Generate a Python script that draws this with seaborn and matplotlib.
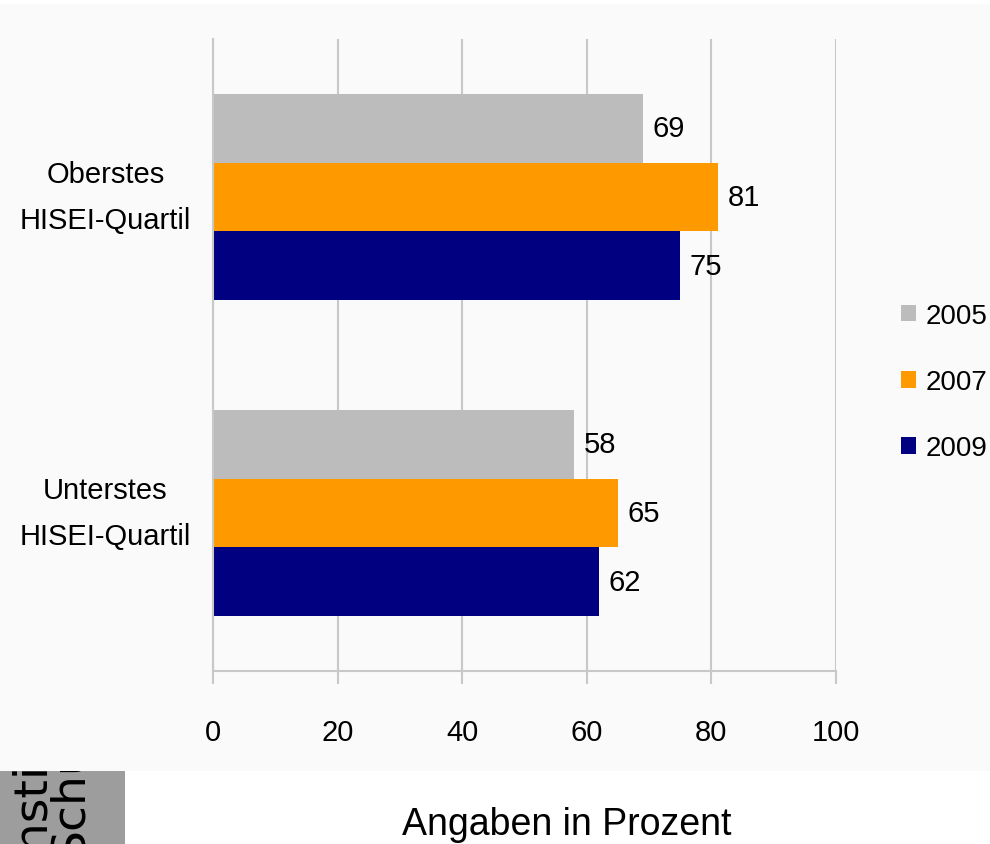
import matplotlib
matplotlib.use("Agg")
import matplotlib.pyplot as plt
import matplotlib.transforms as mtransforms
import seaborn as sns
import pandas as pd
from matplotlib.patches import Rectangle, Patch

categories = ["Oberstes\nHISEI-Quartil", "Unterstes\nHISEI-Quartil"]
years = ["2005", "2007", "2009"]
values_2005 = [69, 58]
values_2007 = [81, 65]
values_2009 = [75, 62]
x_ticks = [0, 20, 40, 60, 80, 100]
x_label = "Angaben in Prozent"
colors = ["#bcbcbc", "#ff9900", "#000080"]
grid_col = "#c8c8c8"

df = pd.DataFrame({
    "Kategorie": categories * 3,
    "Jahr": [y for y in years for _ in categories],
    "Wert": values_2005 + values_2007 + values_2009,
})

sns.set_theme(style="white")
font = ["Liberation Sans", "DejaVu Sans"]
plt.rcParams["font.family"] = font
plt.rcParams["text.color"] = "black"
plt.rcParams["xtick.color"] = "black"
plt.rcParams["ytick.color"] = "black"

fig = plt.figure(figsize=(9.9, 8.45), dpi=100, facecolor="white")
fig.patches.append(Rectangle((0, 73 / 845), 1, (840 - 73) / 845, transform=fig.transFigure,
                             facecolor="#fafafa", edgecolor="none", zorder=-10))

ax = fig.add_axes([213 / 990, 1 - 672 / 845, (836 - 213) / 990, (672 - 40) / 845])
ax.set_facecolor("none")
sns.barplot(data=df, y="Kategorie", x="Wert", hue="Jahr", orient="h",
            order=categories, hue_order=years, palette=colors, width=0.655,
            saturation=1, linewidth=0, errorbar=None, legend=False, ax=ax)

for cont in ax.containers:
    ax.bar_label(cont, padding=7, fontsize=21, color="black")

ax.set_xlim(0, 100)
ax.set_ylim(1.5, -0.5)
ax.set_xticks(x_ticks)
ax.set_xticklabels([str(t) for t in x_ticks], fontsize=21)
ax.set_yticks([0, 1])
ax.set_yticklabels([])
label_tr = ax.get_yaxis_transform() + mtransforms.ScaledTranslation(-22 / 100, 0, fig.dpi_scale_trans)
for i, cat in enumerate(categories):
    ax.text(0, i, cat, transform=label_tr, ha="right", va="center", multialignment="center",
            linespacing=1.85, fontsize=21, color="black")
ax.set_yticks([-0.5, 0.5, 1.5], minor=True)
ax.tick_params(axis="y", which="major", length=0)
ax.tick_params(axis="y", which="minor", length=6, width=1.5, color=grid_col, direction="out")
ax.tick_params(axis="x", which="major", length=9, width=1.5, color=grid_col, pad=25,
               direction="out", bottom=True, labelcolor="black")
ax.set_xlabel("")
ax.set_ylabel("")
ax.xaxis.grid(True, color=grid_col, linewidth=1.5)
ax.yaxis.grid(False)
ax.set_axisbelow(True)
for s in ["top", "right"]:
    ax.spines[s].set_visible(False)
for s in ["left", "bottom"]:
    ax.spines[s].set_color(grid_col)
    ax.spines[s].set_linewidth(1.5)

handles = [Patch(facecolor=c, edgecolor="none", label=y) for c, y in zip(colors, years)]
leg = fig.legend(handles=handles, loc="center left", bbox_to_anchor=(901 / 990, 1 - 383 / 845),
                 frameon=False, prop={"size": 20}, handlelength=0.55,
                 handleheight=0.55, handletextpad=0.35, labelspacing=1.45, borderpad=0,
                 borderaxespad=0, labelcolor="black")

fig.text(567 / 990, 1 - 825 / 845, x_label, ha="center", va="center", fontsize=27, color="black")

ax2 = fig.add_axes([0, 0, 125 / 990, 73 / 845])
ax2.set_facecolor("#9d9d9d")
ax2.set_xticks([])
ax2.set_yticks([])
for s in ax2.spines.values():
    s.set_visible(False)
ax2.set_xlim(0, 125)
ax2.set_ylim(845, 772)
ax2.text(43, 861, "Instit", rotation=90, rotation_mode="anchor", ha="left", va="baseline",
         fontsize=34, family="DejaVu Sans", color="black", clip_on=True)
ax2.text(82, 857, "Schul", rotation=90, rotation_mode="anchor", ha="left", va="baseline",
         fontsize=34, family="DejaVu Sans", color="black", clip_on=True)

fig.savefig("out.png", dpi=100, facecolor="white")
